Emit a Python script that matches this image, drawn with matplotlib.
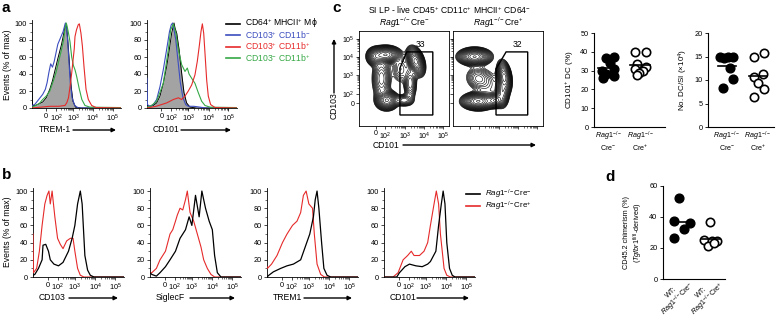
import numpy as np
import matplotlib
matplotlib.use("Agg")
import matplotlib.pyplot as plt
import matplotlib.transforms as mtransforms
from matplotlib.patches import FancyArrowPatch, Polygon

plt.rcParams['font.family'] = ['Liberation Sans', 'DejaVu Sans']
plt.rcParams['mathtext.fontset'] = 'custom'
plt.rcParams['mathtext.rm'] = 'Liberation Sans'
plt.rcParams['mathtext.it'] = 'Liberation Sans:italic'
plt.rcParams['mathtext.bf'] = 'Liberation Sans:bold'

# ---------------- data ----------------
FLOW_TICK_LABELS = ['0', '$10^{2}$', '$10^{3}$', '$10^{4}$', '$10^{5}$']
HIST_TICK_POS = [0.16, 0.27, 0.46, 0.685, 0.905]
BOX_X_TICK_POS = [0.19, 0.29, 0.515, 0.725, 0.935]
BOX_Y_TICK_POS = [0.24, 0.34, 0.54, 0.73, 0.92]
HIST_Y_TICKS = [0, 20, 40, 60, 80, 100]

LEGEND_A = ['CD64$^{+}$ MHCII$^{+}$ Mϕ', 'CD103$^{+}$ CD11b$^{-}$',
            'CD103$^{+}$ CD11b$^{+}$', 'CD103$^{-}$ CD11b$^{+}$']
LEGEND_B = [r'$\mathit{Rag1}^{-/-}$Cre$^{-}$', r'$\mathit{Rag1}^{-/-}$Cre$^{+}$']

# panel a, TREM-1
A1_MAC_X = [0, 0.005, 0.04, 0.08, 0.12, 0.16, 0.20, 0.23, 0.26, 0.29, 0.31, 0.33, 0.35, 0.365, 0.378, 0.39, 0.40, 0.41, 0.425, 0.44, 0.46, 0.49, 0.55, 1.0]
A1_MAC_Y = [25, 3, 3, 5, 7, 12, 22, 32, 45, 58, 66, 74, 84, 92, 99, 95, 82, 68, 45, 25, 8, 1, 0, 0]
A1_BLUE_X = [0, 0.03, 0.06, 0.09, 0.12, 0.15, 0.17, 0.19, 0.21, 0.23, 0.25, 0.27, 0.29, 0.31, 0.33, 0.35, 0.365, 0.375, 0.39, 0.40, 0.415, 0.43, 0.45, 0.48, 0.52, 1.0]
A1_BLUE_Y = [3, 4, 8, 12, 16, 22, 30, 42, 52, 48, 55, 65, 75, 80, 85, 90, 96, 100, 92, 80, 55, 30, 12, 3, 0, 0]
A1_RED_X = [0, 0.1, 0.2, 0.3, 0.37, 0.39, 0.41, 0.427, 0.446, 0.464, 0.475, 0.483, 0.50, 0.52, 0.532, 0.55, 0.566, 0.584, 0.607, 0.633, 0.67, 0.72, 1.0]
A1_RED_Y = [0, 1, 2, 2, 3, 6, 12, 25, 41, 59, 70, 84, 92, 98, 99, 88, 73, 49, 22, 10, 3, 0.5, 0]
A1_GREEN_X = [0, 0.04, 0.08, 0.12, 0.16, 0.20, 0.24, 0.27, 0.30, 0.33, 0.355, 0.37, 0.385, 0.395, 0.41, 0.427, 0.446, 0.465, 0.483, 0.50, 0.53, 0.56, 0.595, 0.65, 1.0]
A1_GREEN_Y = [1, 3, 5, 10, 14, 20, 32, 42, 55, 68, 80, 92, 100, 96, 88, 78, 60, 50, 45, 38, 23, 10, 3, 1, 0.5]

# panel a, CD101
A2_MAC_X = [0, 0.033, 0.07, 0.107, 0.144, 0.181, 0.219, 0.248, 0.274, 0.293, 0.30, 0.311, 0.33, 0.356, 0.385, 0.411, 0.44, 0.478, 0.55, 1.0]
A2_MAC_Y = [3, 2, 3, 6, 14, 29, 49, 69, 88, 97, 100, 94, 88, 69, 41, 18, 6, 1, 0, 0]
A2_BLUE_X = [0, 0.005, 0.03, 0.07, 0.107, 0.144, 0.181, 0.22, 0.25, 0.27, 0.285, 0.30, 0.32, 0.345, 0.37, 0.40, 0.43, 0.46, 0.52, 0.59, 0.65, 1.0]
A2_BLUE_Y = [35, 4, 2, 4, 10, 25, 45, 70, 90, 98, 100, 92, 80, 55, 30, 12, 4, 2, 2, 1, 0, 0]
A2_RED_X = [0, 0.1, 0.219, 0.293, 0.348, 0.385, 0.422, 0.459, 0.496, 0.533, 0.559, 0.581, 0.60, 0.615, 0.63, 0.644, 0.663, 0.681, 0.707, 0.756, 1.0]
A2_RED_Y = [0, 2, 6, 10, 12, 10, 14, 20, 27, 39, 55, 73, 90, 99, 88, 65, 33, 14, 4, 0.5, 0]
A2_GREEN_X = [0, 0.04, 0.107, 0.181, 0.237, 0.263, 0.293, 0.322, 0.348, 0.385, 0.422, 0.448, 0.467, 0.496, 0.533, 0.57, 0.607, 0.644, 0.70, 1.0]
A2_GREEN_Y = [1, 2, 8, 29, 69, 92, 99, 88, 69, 51, 43, 47, 40, 35, 29, 18, 8, 3, 1, 0.5]

# panel b
B1_NEG_X = [0, 0.02, 0.06, 0.10, 0.11, 0.14, 0.17, 0.19, 0.23, 0.28, 0.33, 0.39, 0.43, 0.46, 0.49, 0.52, 0.54, 0.555, 0.57, 0.60, 0.63, 0.67, 1.0]
B1_NEG_Y = [2, 3, 10, 20, 37, 38, 30, 20, 15, 13, 17, 30, 45, 60, 85, 100, 85, 55, 25, 8, 2, 0, 0]
B1_POS_X = [0, 0.005, 0.04, 0.07, 0.10, 0.13, 0.155, 0.175, 0.19, 0.21, 0.24, 0.27, 0.30, 0.33, 0.37, 0.41, 0.44, 0.46, 0.49, 0.52, 0.56, 1.0]
B1_POS_Y = [50, 5, 10, 30, 60, 85, 95, 100, 85, 100, 70, 45, 38, 33, 42, 45, 45, 30, 10, 2, 0, 0]

B2_NEG_X = [0, 0.02, 0.07, 0.11, 0.17, 0.22, 0.28, 0.33, 0.39, 0.43, 0.46, 0.50, 0.54, 0.57, 0.61, 0.65, 0.685, 0.71, 0.74, 0.78, 1.0]
B2_NEG_Y = [5, 3, 1, 5, 12, 20, 30, 45, 55, 70, 60, 95, 70, 100, 80, 65, 55, 25, 5, 0, 0]
B2_POS_X = [0, 0.02, 0.07, 0.11, 0.17, 0.22, 0.25, 0.28, 0.30, 0.33, 0.36, 0.39, 0.41, 0.44, 0.48, 0.52, 0.56, 0.59, 0.63, 0.67, 0.71, 1.0]
B2_POS_Y = [5, 5, 10, 20, 30, 50, 55, 65, 72, 80, 78, 90, 100, 75, 65, 50, 35, 20, 10, 3, 0, 0]

B3_NEG_X = [0, 0.02, 0.07, 0.15, 0.22, 0.29, 0.37, 0.42, 0.47, 0.51, 0.53, 0.55, 0.57, 0.60, 0.625, 0.66, 0.70, 1.0]
B3_NEG_Y = [0, 2, 6, 10, 13, 15, 20, 35, 50, 70, 90, 100, 80, 40, 10, 2, 0, 0]
B3_POS_X = [0, 0.005, 0.05, 0.11, 0.17, 0.22, 0.28, 0.33, 0.37, 0.40, 0.43, 0.46, 0.50, 0.52, 0.55, 0.59, 0.63, 1.0]
B3_POS_Y = [12, 10, 15, 25, 40, 50, 60, 65, 75, 95, 100, 85, 80, 50, 15, 3, 0, 0]

B4_NEG_X = [0, 0.14, 0.17, 0.23, 0.28, 0.35, 0.42, 0.48, 0.51, 0.57, 0.60, 0.63, 0.65, 0.67, 0.69, 0.72, 0.75, 0.78, 1.0]
B4_NEG_Y = [0, 0, 5, 12, 15, 13, 12, 15, 18, 30, 60, 85, 100, 85, 40, 10, 2, 0, 0]
B4_POS_X = [0, 0.10, 0.155, 0.21, 0.26, 0.30, 0.33, 0.39, 0.44, 0.48, 0.51, 0.55, 0.575, 0.60, 0.62, 0.66, 0.69, 0.73, 1.0]
B4_POS_Y = [0, 0, 5, 20, 25, 30, 25, 25, 30, 40, 60, 85, 100, 85, 50, 10, 2, 0, 0]
B_XLABELS = ['CD103', 'SiglecF', 'TREM1', 'CD101']

# panel c, flow populations (display units)
C1_CX = [0.30, 0.18, 0.63, 0.57, 0.31, 0.25, 0.50, 0.46]
C1_CY = [0.75, 0.73, 0.68, 0.45, 0.27, 0.50, 0.27, 0.60]
C1_SX = [0.07, 0.045, 0.04, 0.035, 0.055, 0.05, 0.05, 0.05]
C1_SY = [0.04, 0.045, 0.07, 0.09, 0.045, 0.11, 0.03, 0.08]
C1_W = [1.0, 0.45, 0.9, 0.25, 0.85, 0.3, 0.25, 0.12]
C1_ANG = [0, 0, 20, 0, 0, 0, 0, 0]
C2_CX = [0.24, 0.57, 0.55, 0.28, 0.47, 0.28, 0.40]
C2_CY = [0.73, 0.52, 0.36, 0.26, 0.27, 0.50, 0.42]
C2_SX = [0.08, 0.035, 0.035, 0.08, 0.045, 0.07, 0.08]
C2_SY = [0.04, 0.075, 0.075, 0.04, 0.035, 0.06, 0.10]
C2_W = [1.0, 0.7, 0.4, 1.0, 0.6, 0.18, 0.06]
C2_ANG = [0, 10, 0, 0, 0, -20, 0]
GATE1_X = [0.455, 0.455, 0.53, 0.82, 0.82]
GATE1_Y = [0.116, 0.61, 0.78, 0.78, 0.116]
GATE2_X = [0.478, 0.478, 0.59, 0.83, 0.83]
GATE2_Y = [0.116, 0.60, 0.78, 0.78, 0.116]
GATE_PCT = ['33', '32']

# panel c scatter
GROUP_L1 = [r'$\mathit{Rag1}^{-/-}$', r'$\mathit{Rag1}^{-/-}$']
GROUP_L2 = [r'Cre$^{-}$', r'Cre$^{+}$']
CD101_NEG = [36.5, 37.2, 34, 30, 31, 28, 27, 26]
CD101_NEG_DX = [-0.08, 0.2, 0.05, -0.18, 0.2, -0.05, 0.2, -0.15]
CD101_POS = [40, 40, 33.5, 32, 31, 30, 28.5, 27.5]
CD101_POS_DX = [-0.16, 0.18, -0.1, 0.18, -0.15, 0.1, -0.02, -0.1]
DCNUM_NEG = [14.9, 15.0, 14.8, 14.6, 12.5, 10.2, 8.3]
DCNUM_NEG_DX = [-0.22, 0.05, 0.21, -0.09, 0.1, 0.19, -0.13]
DCNUM_POS = [15.0, 15.7, 11.3, 10.7, 9.3, 8.0, 6.4]
DCNUM_POS_DX = [-0.13, 0.19, 0.16, -0.14, 0.0, 0.19, -0.14]

# panel d
D_L1 = ['WT:', 'WT:']
D_L2 = [r'$\mathit{Rag1}^{-/-}$Cre$^{-}$', r'$\mathit{Rag1}^{-/-}$Cre$^{+}$']
CHIM_NEG = [52, 37.6, 36.3, 32, 26.7]
CHIM_NEG_DX = [-0.06, -0.24, 0.29, 0.11, -0.24]
CHIM_POS = [36.6, 25.2, 24.7, 24.7, 21.3, 23.5]
CHIM_POS_DX = [-0.03, -0.22, 0.02, 0.19, -0.09, 0.1]

# ---------------- styles ----------------
BLUE = '#3c4dbf'
RED = '#e62a2a'
GREEN = '#35a845'
GRAYFILL = '#a3a3a3'
FS = 6.2
TFS = 5.3

W, H = 777, 320
fig = plt.figure(figsize=(W / 100, H / 100), dpi=100)


def ax_px(x0, y0, x1, y1):
    return fig.add_axes([x0 / W, 1 - y1 / H, (x1 - x0) / W, (y1 - y0) / H])


def ftext(x, y, s, **kw):
    kw.setdefault('fontsize', FS)
    return fig.text(x / W, 1 - y / H, s, **kw)


def farrow(x0, y0, x1, y1):
    fig.add_artist(FancyArrowPatch((x0 / W, 1 - y0 / H), (x1 / W, 1 - y1 / H),
                                   transform=fig.transFigure, arrowstyle='-|>',
                                   mutation_scale=6, lw=1.0, color='black',
                                   shrinkA=0, shrinkB=0))


def minor_pos(pos):
    out = []
    for d in range(1, 4):
        a, b = pos[d], pos[d + 1]
        for k in range(2, 10):
            out.append(a + np.log10(k) * (b - a))
    return out


def setup_hist(ax):
    ax.set_xlim(0, 1)
    ax.set_ylim(0, 104)
    for s in ['top', 'right']:
        ax.spines[s].set_visible(False)
    for s in ['left', 'bottom']:
        ax.spines[s].set_linewidth(0.6)
    ax.set_yticks(HIST_Y_TICKS)
    ax.set_yticks([10, 30, 50, 70, 90], minor=True)
    ax.set_xticks(HIST_TICK_POS)
    ax.set_xticklabels(FLOW_TICK_LABELS)
    ax.set_xticks(minor_pos(HIST_TICK_POS), minor=True)
    ax.tick_params(labelsize=TFS, length=2, width=0.5, pad=1.5)
    ax.tick_params(which='minor', length=1.2, width=0.4)


def hist_xlabel(x0, x1, y, text, arrow_start):
    ftext(x0, y, text, ha='left', va='center')
    farrow(arrow_start, y, x1, y)


# ---------------- panel a ----------------
ftext(2, 8, 'a', fontsize=11, fontweight='bold', va='center')
ftext(8, 65, 'Events (% of max)', rotation=90, ha='center', va='center')

a1 = ax_px(32, 19.6, 121, 108)
a2 = ax_px(147, 19.6, 237, 108)
for ax, mx, my, bx, by, rx, ry, gx_, gy_ in [
        (a1, A1_MAC_X, A1_MAC_Y, A1_BLUE_X, A1_BLUE_Y, A1_RED_X, A1_RED_Y, A1_GREEN_X, A1_GREEN_Y),
        (a2, A2_MAC_X, A2_MAC_Y, A2_BLUE_X, A2_BLUE_Y, A2_RED_X, A2_RED_Y, A2_GREEN_X, A2_GREEN_Y)]:
    setup_hist(ax)
    ax.fill_between(mx, my, color=GRAYFILL, lw=0, zorder=1)
    ax.plot(mx, my, color='black', lw=0.7, zorder=2)
    ax.plot(bx, by, color=BLUE, lw=0.8, zorder=3)
    ax.plot(gx_, gy_, color=GREEN, lw=0.8, zorder=3)
    ax.plot(rx, ry, color=RED, lw=0.8, zorder=4)
hist_xlabel(39, 116, 130, 'TREM-1', 73)
hist_xlabel(153, 231, 130, 'CD101', 181)

for i, (lab, col) in enumerate(zip(LEGEND_A, ['black', BLUE, RED, GREEN])):
    y = 23.5 + i * 11.5
    fig.add_artist(plt.Line2D([226 / W, 240 / W], [1 - y / H, 1 - y / H], color=col, lw=1.2))
    ftext(245, y, lab, color=col, va='center', ha='left')

# ---------------- panel b ----------------
ftext(2, 175, 'b', fontsize=11, fontweight='bold', va='center')
ftext(8, 232, 'Events (% of max)', rotation=90, ha='center', va='center')
b_lefts = [33, 150, 267, 384]
b_curves = [(B1_NEG_X, B1_NEG_Y, B1_POS_X, B1_POS_Y), (B2_NEG_X, B2_NEG_Y, B2_POS_X, B2_POS_Y),
            (B3_NEG_X, B3_NEG_Y, B3_POS_X, B3_POS_Y), (B4_NEG_X, B4_NEG_Y, B4_POS_X, B4_POS_Y)]
b_label_w = [30, 34, 31, 27]
for left, (nx, ny, px, py), lab, tw in zip(b_lefts, b_curves, B_XLABELS, b_label_w):
    ax = ax_px(left, 187.6, left + 91, 277)
    setup_hist(ax)
    ax.plot(px, py, color=RED, lw=0.8, zorder=3)
    ax.plot(nx, ny, color='black', lw=0.9, zorder=4)
    tx = left + 6
    ftext(tx, 298, lab, ha='left', va='center')
    farrow(tx + tw, 298, left + 85, 298)

for i, (lab, col) in enumerate(zip(LEGEND_B, ['black', RED])):
    y = 194 + i * 12
    fig.add_artist(plt.Line2D([466 / W, 480 / W], [1 - y / H, 1 - y / H], color=col, lw=1.2))
    ftext(485, y, lab, va='center', ha='left', fontsize=5.7)

# ---------------- panel c: flow contours ----------------
ftext(332, 8, 'c', fontsize=11, fontweight='bold', va='center')
ftext(449, 10, 'SI LP - live CD45$^{+}$ CD11c$^{+}$ MHCII$^{+}$ CD64$^{-}$', ha='center', va='center')

grid = np.linspace(0, 1, 300)
GX, GY = np.meshgrid(grid, grid)


def density(cx, cy, sx, sy, w, ang):
    Z = np.zeros_like(GX)
    for x0, y0, a, b, wt, th in zip(cx, cy, sx, sy, w, ang):
        t = np.deg2rad(th)
        dx, dy = GX - x0, GY - y0
        u = dx * np.cos(t) + dy * np.sin(t)
        v = -dx * np.sin(t) + dy * np.cos(t)
        Z += wt * np.exp(-0.5 * ((u / a) ** 2 + (v / b) ** 2))
    return Z


boxes = [(359, 449), (453, 543)]
pops = [(C1_CX, C1_CY, C1_SX, C1_SY, C1_W, C1_ANG), (C2_CX, C2_CY, C2_SX, C2_SY, C2_W, C2_ANG)]
gates = [(GATE1_X, GATE1_Y), (GATE2_X, GATE2_Y)]
subt = [r'$\mathit{Rag1}^{-/-}$Cre$^{-}$', r'$\mathit{Rag1}^{-/-}$Cre$^{+}$']
for i, ((x0, x1), pop, (gxs, gys), pct, st) in enumerate(zip(boxes, pops, gates, GATE_PCT, subt)):
    ax = ax_px(x0, 31, x1, 126)
    Z = density(*pop)
    levels = Z.max() * np.geomspace(0.03, 0.97, 19)
    ax.contour(GX, GY, Z, levels=levels, colors='black', linewidths=0.42)
    ax.add_patch(Polygon(np.column_stack([gxs, gys]), closed=True, fill=False, lw=1.0, ec='black'))
    ax.text(np.mean(gxs[2:4]) + 0.01, 0.86, pct, fontsize=FS, ha='center', va='center')
    ax.set_xlim(0, 1)
    ax.set_ylim(0, 1)
    for s in ax.spines.values():
        s.set_linewidth(0.6)
    ax.set_xticks(BOX_X_TICK_POS)
    ax.set_yticks(BOX_Y_TICK_POS)
    ax.set_xticks(minor_pos(BOX_X_TICK_POS), minor=True)
    ax.set_yticks(minor_pos(BOX_Y_TICK_POS), minor=True)
    ax.tick_params(labelsize=5.1, length=2, width=0.5, pad=1.2)
    ax.tick_params(which='minor', length=1.2, width=0.4)
    if i == 0:
        ax.set_xticklabels(FLOW_TICK_LABELS)
        ax.set_yticklabels(FLOW_TICK_LABELS)
    else:
        ax.set_xticklabels([])
        ax.set_yticklabels([])
    ftext((x0 + x1) / 2, 23, st, ha='center', va='center')

ftext(334, 106, 'CD103', rotation=90, ha='center', va='center')
farrow(334, 93, 334, 39)
ftext(373, 145, 'CD101', ha='left', va='center')
farrow(403, 145, 536, 145)


# ---------------- scatter panels ----------------
def dot_panel(ax, neg, neg_dx, pos, pos_dx, ylim, yticks):
    ax.plot(np.array(neg_dx) + 0, neg, 'o', ms=6.3, color='black', mec='black', clip_on=False)
    ax.plot(np.array(pos_dx) + 1, pos, 'o', ms=6.0, mfc='white', mec='black', mew=1.2, clip_on=False, zorder=3)
    for g, vals in [(0, neg), (1, pos)]:
        m = np.mean(vals)
        ax.plot([g - 0.3, g + 0.3], [m, m], color='black', lw=1.2, zorder=4)
    ax.set_ylim(*ylim)
    ax.set_yticks(yticks)
    ax.set_xticks([0, 1])
    ax.set_xticklabels([])
    for s in ['top', 'right']:
        ax.spines[s].set_visible(False)
    for s in ['left', 'bottom']:
        ax.spines[s].set_linewidth(0.8)
    ax.tick_params(axis='y', labelsize=TFS, length=2.5, width=0.6, pad=1.5)
    ax.tick_params(axis='x', length=0)


def two_line_labels(ax, l1, l2, h):
    tr = mtransforms.blended_transform_factory(ax.transData, ax.transAxes)
    for g in range(2):
        ax.text(g, -9.5 / h, l1[g], transform=tr, ha='center', va='center', fontsize=5.1)
        ax.text(g, -21 / h, l2[g], transform=tr, ha='center', va='center', fontsize=5.1)


s1 = ax_px(594, 33, 665, 127)
dot_panel(s1, CD101_NEG, CD101_NEG_DX, CD101_POS, CD101_POS_DX, (0, 50), [0, 10, 20, 30, 40, 50])
s1.set_xlim(-0.44, 1.78)
two_line_labels(s1, GROUP_L1, GROUP_L2, 94)
s1.set_ylabel('CD101$^{+}$ DC (%)', fontsize=5.8, labelpad=3)

s2 = ax_px(708, 33, 774, 127)
dot_panel(s2, DCNUM_NEG, DCNUM_NEG_DX, DCNUM_POS, DCNUM_POS_DX, (0, 20), [0, 5, 10, 15, 20])
s2.set_xlim(-0.61, 1.52)
two_line_labels(s2, GROUP_L1, GROUP_L2, 94)
s2.set_ylabel('No. DC/SI (×10$^{4}$)', fontsize=5.8, labelpad=3)

# ---------------- panel d ----------------
ftext(605, 177, 'd', fontsize=11, fontweight='bold', va='center')
d = ax_px(663, 186, 725, 279)
dot_panel(d, CHIM_NEG, CHIM_NEG_DX, CHIM_POS, CHIM_POS_DX, (0, 60), [0, 20, 40, 60])
d.set_xlim(-0.6, 1.47)
# rotated two-line group labels (centre-aligned lines, 45 degrees)
for g, (l1, l2) in enumerate(zip(D_L1, D_L2)):
    disp = d.transData.transform((g, 0))
    gxp = disp[0]
    gyp = H - disp[1]
    c2x, c2y = gxp - 3, gyp + 20
    c1x, c1y = c2x - 6.5, c2y - 6.5
    ftext(c2x, c2y, l2, rotation=45, ha='center', va='center', rotation_mode='anchor', fontsize=5.1)
    ftext(c1x, c1y, l1, rotation=45, ha='center', va='center', rotation_mode='anchor', fontsize=5.1)
d.set_ylabel('CD45.2 chimerism (%)\n(' + r'$\mathit{Tgfbr1}^{\mathrm{fl/fl}}$' + '-derived)',
             fontsize=5.2, labelpad=3)

fig.savefig('out.png', dpi=100)
